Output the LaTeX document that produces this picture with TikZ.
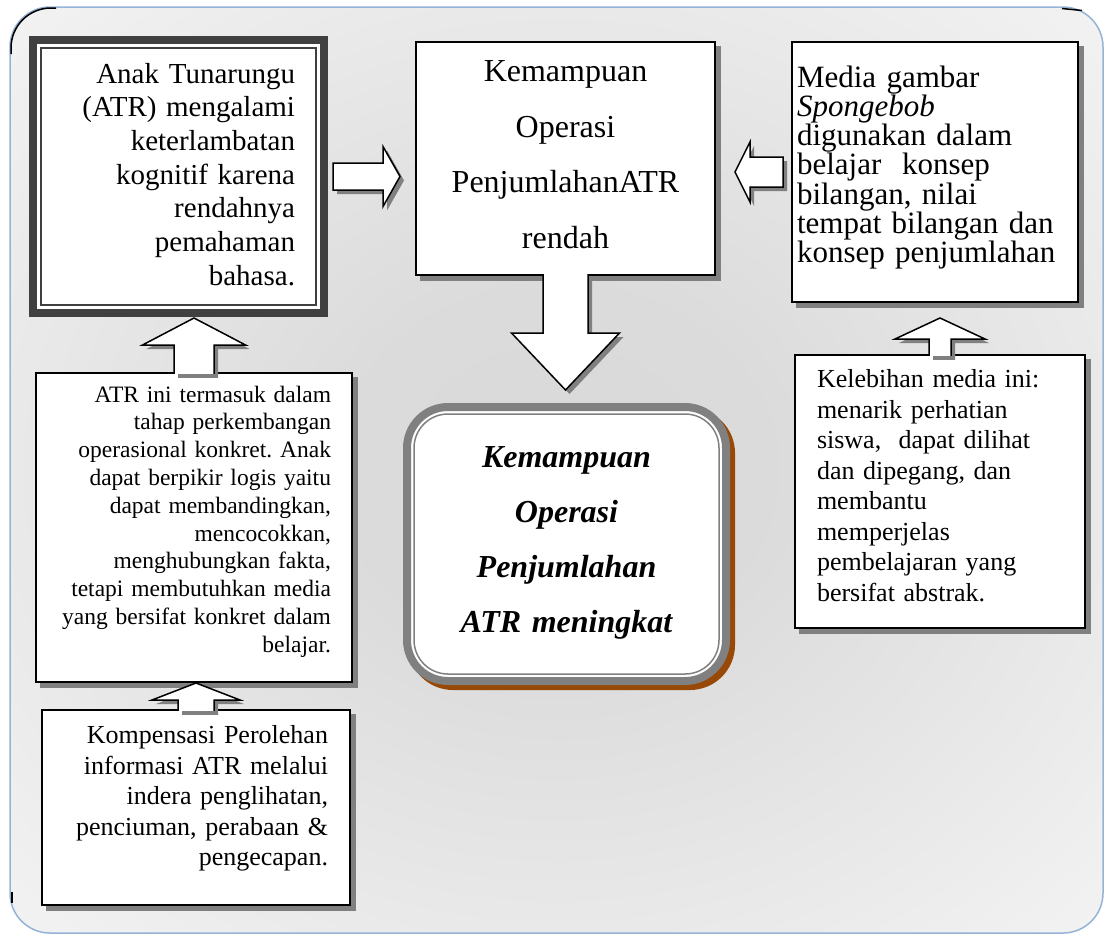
\documentclass[tikz,border=0pt]{standalone}
\usepackage{fontspec}
\setmainfont{Liberation Serif}
\frenchspacing
\definecolor{bingkai}{HTML}{95B3D7}
\definecolor{gelap}{HTML}{404040}
\definecolor{abu}{HTML}{808080}
\definecolor{coklat}{HTML}{984807}
\pgfdeclareradialshading{latar}{\pgfpoint{0bp}{0bp}}{color(0bp)=(black!15); color(10bp)=(black!14); color(35bp)=(black!5); color(50bp)=(black!3)}

\begin{document}
\begin{tikzpicture}[x=1pt, y=-1pt,
kotak/.style={
  rectangle,
  draw=black,
  line width=1.5pt,
  fill=white,
  outer sep=0pt,
  inner ysep=0pt,
  preaction={fill=abu, draw=abu, line width=1.5pt, transform canvas={xshift=5pt, yshift=-5pt}}
},
kotaktebal/.style={
  rectangle,
  draw=gelap,
  line width=8pt,
  fill=white,
  outer sep=0pt,
  inner ysep=0pt
},
kotakhasil/.style={
  rectangle,
  rounded corners=41pt,
  draw=abu,
  line width=8pt,
  fill=white,
  outer sep=0pt,
  inner ysep=0pt,
  preaction={fill=coklat, draw=coklat, line width=8pt, transform canvas={xshift=5pt, yshift=-5pt}}
},
panah/.style={
  draw=black,
  fill=white,
  line width=1.5pt,
  line join=miter,
  preaction={fill=abu, transform canvas={xshift=4pt, yshift=-4pt}}
}]
\useasboundingbox (0,0) rectangle (1105,935);
\shadedraw[shading=latar, draw=bingkai, line width=1.5pt, rounded corners=40pt, preaction={fill=black!3}] (10,7) rectangle (1103,933);
\draw[black, line width=1.5pt, rounded corners=40pt] (11,54) -- (11,8) -- (56,8);
\draw[black, line width=1.5pt] (1062,8.5) -- (1082,10.5);
\draw[black, line width=1.5pt] (12,892) -- (12,903);

\node[kotaktebal, text width=233pt, inner xsep=29pt, minimum width=291pt, minimum height=273pt, text height=15.8pt, align=right, font=\fontsize{29}{33.7}\selectfont] (AT) at (178.5,176.5) {Anak Tunarungu\\(ATR) mengalami\\keterlambatan\\kognitif karena\\rendahnya\\pemahaman\\bahasa.};
\draw[gelap, line width=1.5pt] ([shift={(8,8)}]AT.north west) rectangle ([shift={(-8,-8)}]AT.south east);

\node[kotak, text width=279pt, inner xsep=10pt, minimum width=299pt, minimum height=233pt, text height=13.5pt, align=center, font=\fontsize{32}{55.5}\selectfont] (KO) at (565.5,158.5) {Kemampuan\\Operasi\\PenjumlahanATR\\rendah};

\node[kotak, text width=276pt, inner xsep=5pt, minimum width=286pt, minimum height=260pt, text height=12.5pt, align=left, font=\fontsize{31}{29.2}\selectfont] (MG) at (935,172) {Media gambar\\\textit{Spongebob}\\digunakan dalam\\belajar~ konsep\\bilangan, nilai\\tempat bilangan dan\\konsep penjumlahan};

\node[kotak, text width=274pt, inner xsep=21pt, minimum width=316pt, minimum height=309pt, text height=4.4pt, align=right, font=\fontsize{23.5}{27.8}\selectfont] (TP) at (194,527.5) {ATR ini termasuk dalam\\tahap perkembangan\\operasional konkret. Anak\\dapat berpikir logis yaitu\\dapat membandingkan,\\mencocokkan,\\menghubungkan fakta,\\tetapi membutuhkan media\\yang bersifat konkret dalam\\belajar.};

\node[kotak, text width=264pt, inner xsep=22pt, minimum width=308pt, minimum height=195pt, text height=0pt, align=right, font=\fontsize{26}{30.5}\selectfont] (KP) at (196,807.5) {Kompensasi Perolehan\\informasi ATR melalui\\indera penglihatan,\\penciuman, perabaan \&\\pengecapan.};

\node[kotak, text width=246pt, inner xsep=22pt, minimum width=290pt, minimum height=273pt, text height=6.8pt, align=left, font=\fontsize{26}{30.5}\selectfont] (KM) at (940,491.5) {Kelebihan media ini:\\menarik perhatian\\siswa,~ dapat dilihat\\dan dipegang, dan\\membantu\\memperjelas\\pembelajaran yang\\bersifat abstrak.};

\node[kotakhasil, text width=279pt, inner xsep=20pt, minimum width=319pt, minimum height=274pt, text height=18pt, align=center, font=\bfseries\itshape\fontsize{32}{55}\selectfont] (HS) at (566.5,544) {Kemampuan\\Operasi\\Penjumlahan\\ATR meningkat};
\draw[abu, line width=1.5pt, rounded corners=34pt] ([shift={(7,7)}]HS.north west) rectangle ([shift={(-7,-7)}]HS.south east);

\draw[panah] ([shift={(9,-13.5)}]AT.east) -- ++(50,0) -- ++(0,-16.5) -- ++(17,30) -- ++(-17,30) -- ++(0,-16.5) -- ++(-50,0) -- cycle;
\draw[panah] ([shift={(-9,-15)}]MG.west) -- ++(-33,0) -- ++(0,-15) -- ++(-15,30) -- ++(15,30) -- ++(0,-15) -- ++(33,0) -- cycle;
\draw[panah] ([shift={(-22.5,-0.8)}]KO.south) -- ++(0,58.8) -- ++(-31.5,0) -- ++(54,57) -- ++(54,-57) -- ++(-31.5,0) -- ++(0,-58.8);
\draw[panah] ([shift={(-20,0.8)}]TP.north) -- ++(0,-28.8) -- ++(-31.5,0) -- ++(51.5,-27) -- ++(51.5,27) -- ++(-31.5,0) -- ++(0,28.8);
\draw[panah] ([shift={(-18,0.8)}]KP.north) -- ++(0,-10.8) -- ++(-26,0) -- ++(44,-17) -- ++(44,17) -- ++(-26,0) -- ++(0,10.8);
\draw[panah] ([shift={(-11,0.8)}]KM.north) -- ++(0,-16.8) -- ++(-34,0) -- ++(45,-21) -- ++(45,21) -- ++(-34,0) -- ++(0,16.8);

\end{tikzpicture}
\end{document}
